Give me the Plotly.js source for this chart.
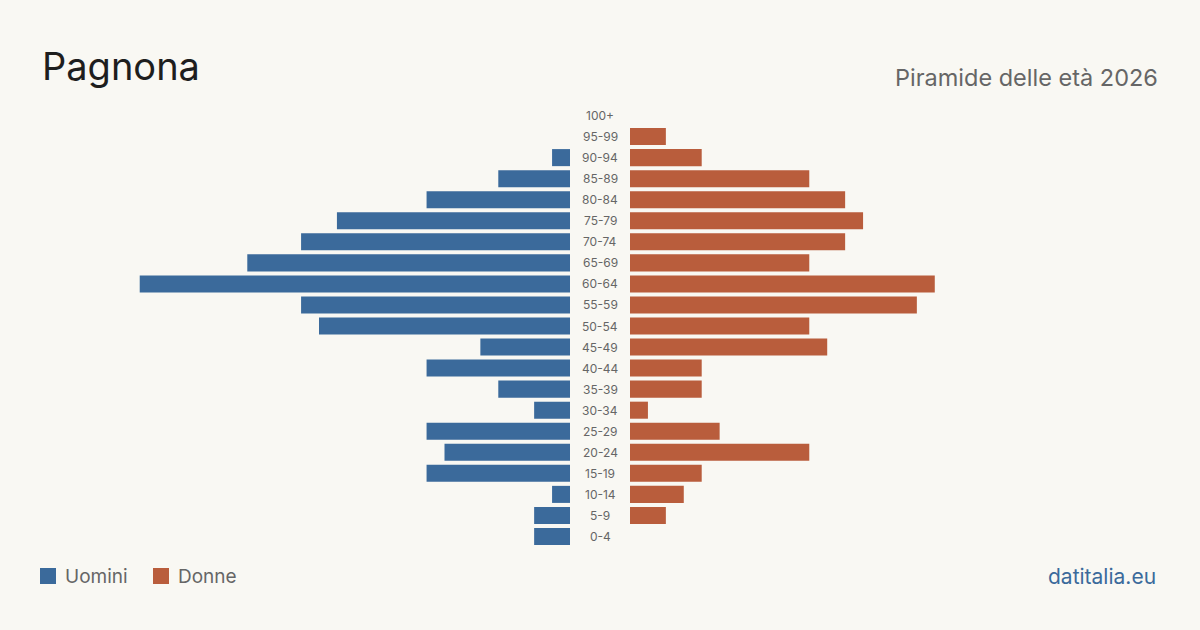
<!DOCTYPE html>
<html><head><meta charset="utf-8">
<script src="https://cdn.plot.ly/plotly-3.0.1.min.js"></script>
<style>html,body{margin:0;padding:0;background:#f9f8f3;}#chart{width:1200px;height:630px;}</style>
</head><body><div id="chart"></div>
<script>
const ageGroups = ["0-4","5-9","10-14","15-19","20-24","25-29","30-34","35-39","40-44","45-49","50-54","55-59","60-64","65-69","70-74","75-79","80-84","85-89","90-94","95-99","100+"];
const men   = [2,2,1,8,7,8,2,4,8,5,14,15,24,18,15,13,8,4,1,0,0];
const women = [0,2,3,4,10,5,1,4,4,11,10,16,17,10,12,13,12,10,4,2,0];
const seriesNames = ["Uomini","Donne"];
const colors = ["#3b6a9b","#b95d3c"];
const FONT = "Inter, 'Liberation Sans', sans-serif";
const W = 1200, H = 630;
const T = 105, B = 83;
const maxVal = 30.12;
const py = p => (H - B - p) / (H - T - B);
const px = p => p / W;

const traces = [
  {type:'bar', orientation:'h', y:ageGroups, x:men, name:seriesNames[0], marker:{color:colors[0]}, xaxis:'x', yaxis:'y', showlegend:false},
  {type:'bar', orientation:'h', y:ageGroups, x:women, name:seriesNames[1], marker:{color:colors[1]}, xaxis:'x2', yaxis:'y', showlegend:false}
];

const annotations = ageGroups.map(g => ({
  text:g, x:0.5, xref:'paper', y:g, yref:'y', showarrow:false,
  xanchor:'center', yanchor:'middle', font:{family:FONT, size:12, color:'#666'}
}));
annotations.push(
  {text:"Pagnona", x:px(40), y:py(66), xref:'paper', yref:'paper', xanchor:'left', yanchor:'middle', showarrow:false, font:{family:FONT, size:38, color:'#1e1e1e'}},
  {text:"Piramide delle età 2026", x:px(1160), y:py(77), xref:'paper', yref:'paper', xanchor:'right', yanchor:'middle', showarrow:false, font:{family:FONT, size:23.5, color:'#666'}},
  {text:seriesNames[0], x:px(63), y:py(576), xref:'paper', yref:'paper', xanchor:'left', yanchor:'middle', showarrow:false, font:{family:FONT, size:19, color:'#666'}},
  {text:seriesNames[1], x:px(176), y:py(576), xref:'paper', yref:'paper', xanchor:'left', yanchor:'middle', showarrow:false, font:{family:FONT, size:19, color:'#666'}},
  {text:"datitalia.eu", x:px(1158), y:py(576), xref:'paper', yref:'paper', xanchor:'right', yanchor:'middle', showarrow:false, font:{family:FONT, size:21, color:'#3b6a9b'}}
);

const shapes = [
  {type:'rect', xref:'paper', yref:'paper', x0:px(40), x1:px(56), y0:py(584), y1:py(568), fillcolor:colors[0], line:{width:0}},
  {type:'rect', xref:'paper', yref:'paper', x0:px(153), x1:px(169), y0:py(584), y1:py(568), fillcolor:colors[1], line:{width:0}}
];

const layout = {
  width:W, height:H,
  paper_bgcolor:'#f9f8f3', plot_bgcolor:'#f9f8f3',
  margin:{l:0, r:0, t:T, b:B},
  showlegend:false,
  bargap:0.19,
  xaxis:{domain:[px(30), px(570)], range:[maxVal, 0], showgrid:false, zeroline:false, showticklabels:false, ticks:'', fixedrange:true},
  xaxis2:{domain:[px(630), px(1170)], range:[0, maxVal], showgrid:false, zeroline:false, showticklabels:false, ticks:'', fixedrange:true},
  yaxis:{categoryorder:'array', categoryarray:ageGroups, showticklabels:false, showgrid:false, zeroline:false, ticks:'', range:[-0.5, ageGroups.length-0.5]},
  annotations, shapes,
  font:{family:FONT}
};
Plotly.newPlot('chart', traces, layout, {displayModeBar:false, staticPlot:true});
</script></body></html>
